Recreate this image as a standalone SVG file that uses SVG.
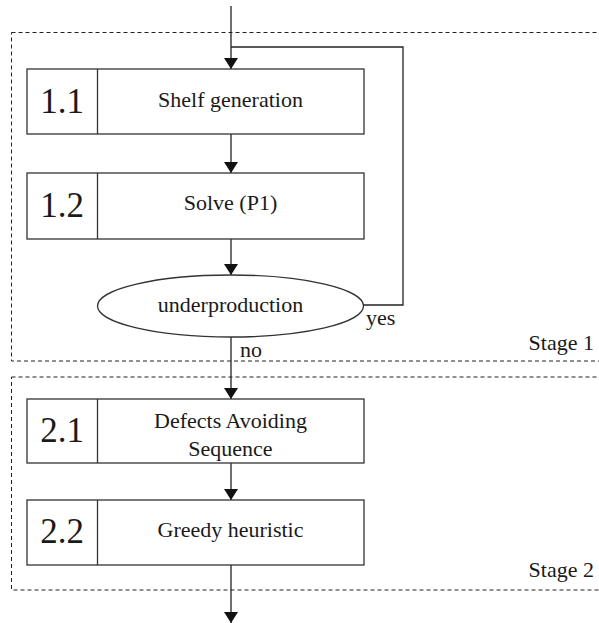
<svg xmlns="http://www.w3.org/2000/svg" width="599" height="623" viewBox="0 0 599 623">
  <style>
    .stage { fill: none; stroke: #222; stroke-width: 1; stroke-dasharray: 4 3; }
    .box { fill: #fff; stroke: #333; stroke-width: 1.3; }
    .conn { fill: none; stroke: #222; stroke-width: 1.3; }
    text { font-family: "Liberation Serif", "Times New Roman", serif; fill: #1a1a1a; }
    .num { font-size: 35px; text-anchor: middle; }
    .lbl { font-size: 22px; text-anchor: middle; }
    .small { font-size: 22px; }
  </style>
  <defs>
    <marker id="arrow" markerWidth="11" markerHeight="14" refX="11" refY="7" orient="auto" markerUnits="userSpaceOnUse">
      <path d="M0,0 L11,7 L0,14 Z" fill="#111"/>
    </marker>
  </defs>

  <!-- stage frames -->
  <g id="stage1">
    <rect class="stage" x="11.5" y="32.5" width="600" height="328.5"/>
    <text class="small" x="594" y="350" text-anchor="end">Stage 1</text>
  </g>
  <g id="stage2">
    <rect class="stage" x="11.5" y="377" width="600" height="213"/>
    <text class="small" x="594" y="577" text-anchor="end">Stage 2</text>
  </g>

  <!-- connectors -->
  <g id="connectors">
    <line class="conn" x1="231" y1="6" x2="231" y2="69" marker-end="url(#arrow)"/>
    <line class="conn" x1="231" y1="134" x2="231" y2="173" marker-end="url(#arrow)"/>
    <line class="conn" x1="231" y1="239" x2="231" y2="275" marker-end="url(#arrow)"/>
    <polyline class="conn" points="363,305 403,305 403,47 231,47"/>
    <line class="conn" x1="231" y1="337" x2="231" y2="399" marker-end="url(#arrow)"/>
    <line class="conn" x1="231" y1="463" x2="231" y2="500" marker-end="url(#arrow)"/>
    <line class="conn" x1="231" y1="565" x2="231" y2="623" marker-end="url(#arrow)"/>
    <text class="small" x="366" y="325">yes</text>
    <text class="small" x="240" y="357">no</text>
  </g>

  <!-- process steps -->
  <g id="step-1-1">
    <rect class="box" x="27" y="69" width="337" height="65"/>
    <line class="box" x1="97.5" y1="69" x2="97.5" y2="134"/>
    <text class="num" x="62" y="113">1.1</text>
    <text class="lbl" x="230.5" y="107">Shelf generation</text>
  </g>
  <g id="step-1-2">
    <rect class="box" x="27" y="173" width="337" height="66"/>
    <line class="box" x1="97.5" y1="173" x2="97.5" y2="239"/>
    <text class="num" x="62" y="217">1.2</text>
    <text class="lbl" x="230.5" y="210">Solve (P1)</text>
  </g>
  <g id="decision">
    <ellipse class="box" cx="230.5" cy="306" rx="133" ry="31"/>
    <text class="lbl" x="230.5" y="312">underproduction</text>
  </g>
  <g id="step-2-1">
    <rect class="box" x="27" y="399" width="337" height="64"/>
    <line class="box" x1="97.5" y1="399" x2="97.5" y2="463"/>
    <text class="num" x="62" y="442">2.1</text>
    <text class="lbl" x="230.5" y="428">Defects Avoiding</text>
    <text class="lbl" x="230.5" y="456">Sequence</text>
  </g>
  <g id="step-2-2">
    <rect class="box" x="27" y="500" width="337" height="65"/>
    <line class="box" x1="97.5" y1="500" x2="97.5" y2="565"/>
    <text class="num" x="62" y="543">2.2</text>
    <text class="lbl" x="230.5" y="537">Greedy heuristic</text>
  </g>
</svg>
